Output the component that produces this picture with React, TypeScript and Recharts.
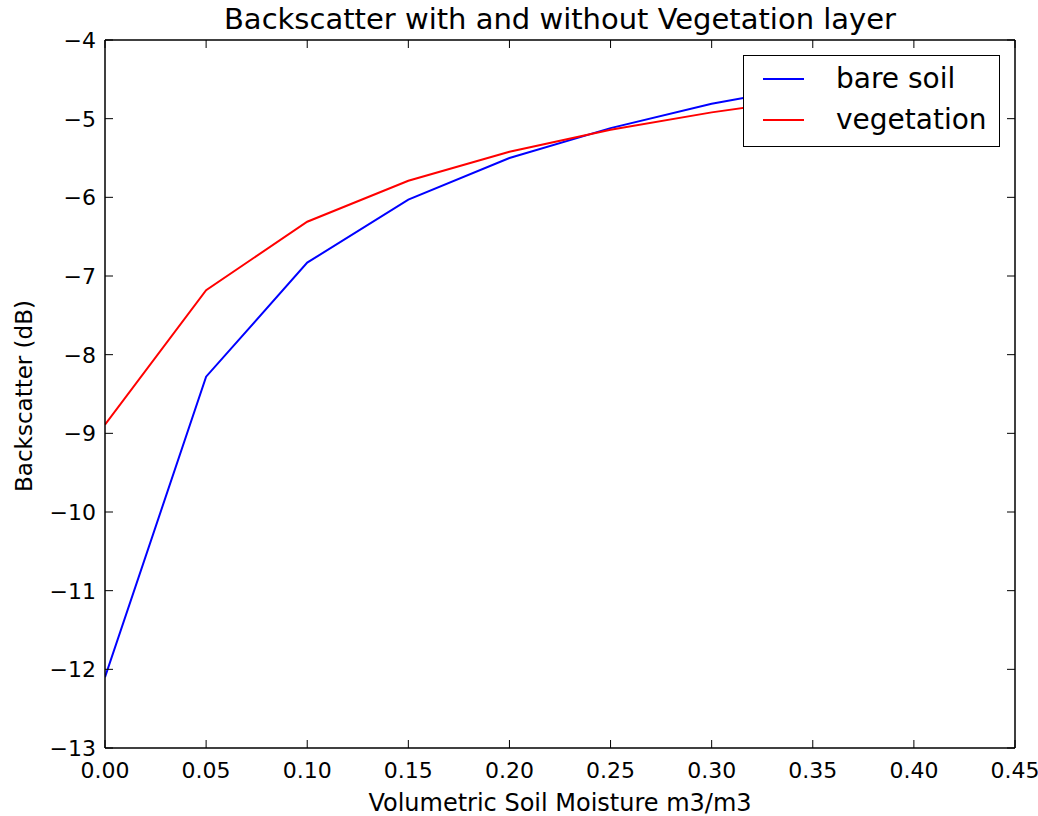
import { Legend, Line, LineChart, XAxis, YAxis } from "recharts";

const moisture = [0, 0.05, 0.1, 0.15, 0.2, 0.25, 0.3, 0.35];
const bareSoil = [-12.1, -8.28, -6.83, -6.03, -5.5, -5.12, -4.81, -4.58];
const vegetation = [-8.89, -7.18, -6.31, -5.79, -5.42, -5.14, -4.92, -4.74];

const xTicks = [0, 0.05, 0.1, 0.15, 0.2, 0.25, 0.3, 0.35, 0.4, 0.45];
const yTicks = [-13, -12, -11, -10, -9, -8, -7, -6, -5, -4];

const data = moisture.map((m, i) => ({
  m,
  bare: bareSoil[i],
  veg: vegetation[i],
}));

const FONT = "'DejaVu Sans', sans-serif";
const TICK = 8;

const fmtY = (v: number) => (v < 0 ? `\u2212${Math.abs(v)}` : `${v}`);

const BottomTick = ({ x, y, payload }: any) => (
  <g>
    <line x1={x} x2={x} y1={y} y2={y - TICK} stroke="#000" strokeWidth={1} />
    <text x={x} y={y + 30} textAnchor="middle" fontSize={22} fontFamily={FONT} fill="#000">
      {payload.value.toFixed(2)}
    </text>
  </g>
);

const TopTick = ({ x, y }: any) => (
  <line x1={x} x2={x} y1={y} y2={y + TICK} stroke="#000" strokeWidth={1} />
);

const LeftTick = ({ x, y, payload }: any) => (
  <g>
    <line x1={x} x2={x + TICK} y1={y} y2={y} stroke="#000" strokeWidth={1} />
    <text x={x - 9} y={y + 8} textAnchor="end" fontSize={22} fontFamily={FONT} fill="#000">
      {fmtY(payload.value)}
    </text>
  </g>
);

const RightTick = ({ x, y }: any) => (
  <line x1={x} x2={x - TICK} y1={y} y2={y} stroke="#000" strokeWidth={1} />
);

const LegendBox = () => (
  <div
    style={{
      width: 255,
      height: 90,
      border: "1.5px solid #000",
      background: "#fff",
      fontFamily: FONT,
      fontSize: 28,
      position: "relative",
    }}
  >
    {[
      { name: "bare soil", color: "#0000ff", top: 6 },
      { name: "vegetation", color: "#ff0000", top: 47 },
    ].map((it) => (
      <div
        key={it.name}
        style={{ position: "absolute", left: 0, top: it.top, height: 34, display: "flex", alignItems: "center" }}
      >
        <div style={{ marginLeft: 19, width: 41, height: 2, background: it.color }} />
        <span style={{ marginLeft: 32, lineHeight: "34px" }}>{it.name}</span>
      </div>
    ))}
  </div>
);

export default function App() {
  return (
    <div style={{ position: "absolute", left: 0, top: 0, width: 1038, height: 816, background: "#fff", overflow: "hidden" }}>
      <div
        style={{
          position: "absolute",
          top: 2,
          left: 105,
          width: 910,
          textAlign: "center",
          fontFamily: FONT,
          fontSize: 29,
          lineHeight: "34px",
        }}
      >
        Backscatter with and without Vegetation layer
      </div>
      <div
        style={{
          position: "absolute",
          top: 791,
          left: 105,
          width: 910,
          textAlign: "center",
          fontFamily: FONT,
          fontSize: 24,
          lineHeight: "25px",
        }}
      >
        Volumetric Soil Moisture m3/m3
      </div>
      <div
        style={{
          position: "absolute",
          left: 24,
          top: 396,
          fontFamily: FONT,
          fontSize: 23,
          whiteSpace: "nowrap",
          transform: "translate(-50%, -50%) rotate(-90deg)",
        }}
      >
        Backscatter (dB)
      </div>
      <LineChart
        width={1038}
        height={816}
        data={data}
        margin={{ top: 39, right: 22, bottom: 67, left: 104 }}
      >
        <XAxis
          xAxisId="b"
          dataKey="m"
          type="number"
          domain={[0, 0.45]}
          ticks={xTicks}
          height={1}
          tickSize={0}
          tickMargin={0}
          tick={<BottomTick />}
          axisLine={{ stroke: "#000", strokeWidth: 1.5 }}
          interval={0}
          allowDataOverflow
        />
        <XAxis
          xAxisId="t"
          orientation="top"
          dataKey="m"
          type="number"
          domain={[0, 0.45]}
          ticks={xTicks}
          height={1}
          tickSize={0}
          tickMargin={0}
          tick={<TopTick />}
          axisLine={{ stroke: "#000", strokeWidth: 1.5 }}
          interval={0}
          allowDataOverflow
        />
        <YAxis
          yAxisId="l"
          type="number"
          domain={[-13, -4]}
          ticks={yTicks}
          width={1}
          tickSize={0}
          tickMargin={0}
          tick={<LeftTick />}
          axisLine={{ stroke: "#000", strokeWidth: 1.5 }}
          interval={0}
          allowDataOverflow
        />
        <YAxis
          yAxisId="r"
          orientation="right"
          type="number"
          domain={[-13, -4]}
          ticks={yTicks}
          width={1}
          tickSize={0}
          tickMargin={0}
          tick={<RightTick />}
          axisLine={{ stroke: "#000", strokeWidth: 1.5 }}
          interval={0}
          allowDataOverflow
        />
        <Line
          xAxisId="b"
          yAxisId="l"
          dataKey="bare"
          name="bare soil"
          type="linear"
          stroke="#0000ff"
          strokeWidth={2}
          dot={false}
          isAnimationActive={false}
        />
        <Line
          xAxisId="b"
          yAxisId="l"
          dataKey="veg"
          name="vegetation"
          type="linear"
          stroke="#ff0000"
          strokeWidth={2}
          dot={false}
          isAnimationActive={false}
        />
        <Legend
          layout="horizontal"
          verticalAlign="middle"
          align="center"
          content={<LegendBox />}
          wrapperStyle={{ position: "absolute", left: 743, top: 55, width: 258, height: 93 }}
        />
      </LineChart>
    </div>
  );
}
